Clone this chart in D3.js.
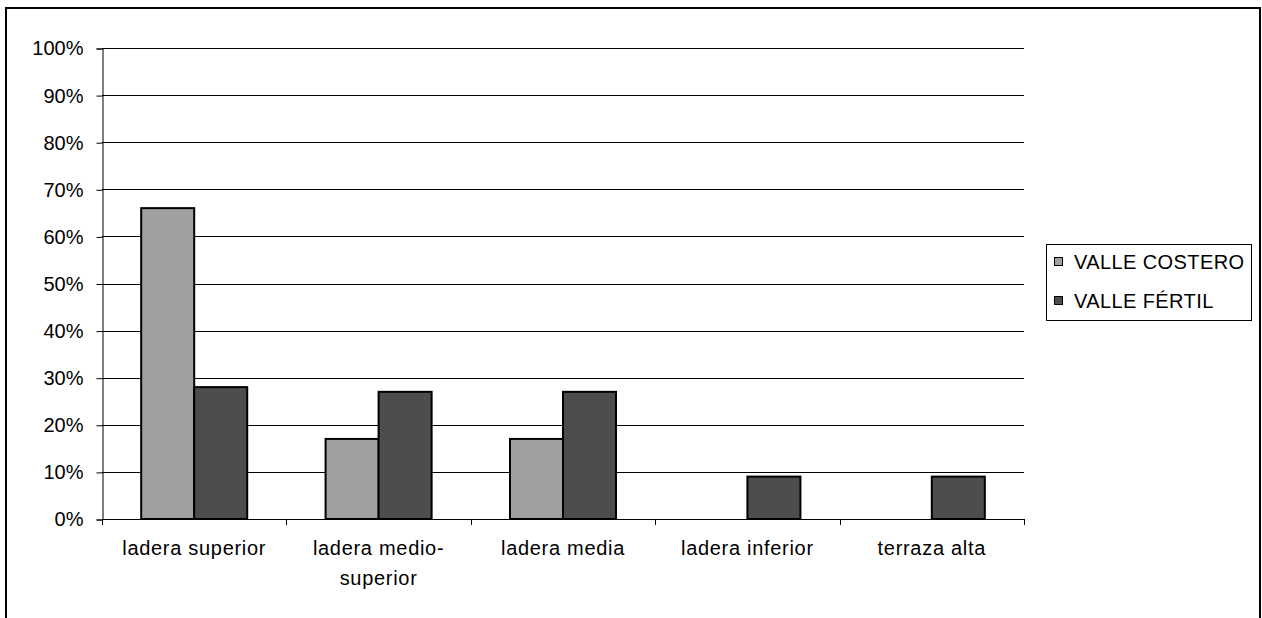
<!DOCTYPE html>
<html>
<head>
<meta charset="utf-8">
<script src="https://cdn.jsdelivr.net/npm/d3@7"></script>
<style>
  html, body { margin: 0; padding: 0; background: #fff; }
  svg { display: block; font-family: "Liberation Sans", Arial, sans-serif; }
</style>
</head>
<body>
<svg id="chart" width="1262" height="618"></svg>
<script>
// Categories (slope positions) and the share of each valley per category
const categories = ["ladera superior", "ladera medio-superior", "ladera media", "ladera inferior", "terraza alta"];
const categoryLines = [["ladera superior"], ["ladera medio-", "superior"], ["ladera media"], ["ladera inferior"], ["terraza alta"]];
const seriesNames = ["VALLE COSTERO", "VALLE FÉRTIL"];
const valleCostero = [0.66, 0.17, 0.17, 0, 0];
const valleFertil = [0.28, 0.27, 0.27, 0.09, 0.09];
const seriesColors = ["#a0a0a0", "#4d4d4d"];
const yTicks = [0, 0.1, 0.2, 0.3, 0.4, 0.5, 0.6, 0.7, 0.8, 0.9, 1.0];

const svg = d3.select("#chart");
const plot = { left: 102, right: 1024, top: 48, bottom: 519 };

// Outer chart frame (runs past the bottom edge)
svg.append("rect")
  .attr("x", 6).attr("y", 8)
  .attr("width", 1254).attr("height", 660)
  .attr("fill", "none").attr("stroke", "#000").attr("stroke-width", 2);

const y = d3.scaleLinear().domain([0, 1]).range([plot.bottom, plot.top]);
const x = d3.scaleBand().domain(categories).range([plot.left, plot.right])
  .paddingInner(0.425).paddingOuter(0.2125);
const xs = d3.scaleBand().domain(seriesNames).range([0, x.bandwidth()]);

// Horizontal gridlines
svg.append("g").selectAll("line").data(yTicks.slice(1)).join("line")
  .attr("x1", plot.left).attr("x2", plot.right)
  .attr("y1", d => Math.round(y(d)) + 0.5).attr("y2", d => Math.round(y(d)) + 0.5)
  .attr("stroke", "#000").attr("stroke-width", 1);

// Y axis
const yAxis = svg.append("g")
  .attr("transform", `translate(${plot.left + 0.5},0.5)`)
  .call(d3.axisLeft(y).tickValues(yTicks).tickFormat(d3.format(".0%"))
    .tickSize(6).tickPadding(13));
yAxis.select(".domain").attr("stroke", "#000");
yAxis.selectAll(".tick line").attr("stroke", "#000");
yAxis.selectAll("text").attr("font-size", 20).attr("fill", "#000")
  .attr("font-family", "'Liberation Sans', Arial, sans-serif");

// Bars
const data = categories.map((c, i) => ({ cat: c, values: [valleCostero[i], valleFertil[i]] }));
const groups = svg.append("g").selectAll("g").data(data).join("g")
  .attr("transform", d => `translate(${x(d.cat)},0)`);
groups.selectAll("rect")
  .data(d => d.values.map((v, j) => ({ v, s: seriesNames[j], j })).filter(e => e.v > 0))
  .join("rect")
  .attr("x", e => xs(e.s))
  .attr("width", xs.bandwidth())
  .attr("y", e => y(e.v))
  .attr("height", e => y(0) - y(e.v))
  .attr("fill", e => seriesColors[e.j])
  .attr("stroke", "#000").attr("stroke-width", 2);

// X axis baseline and category boundary ticks
const bx = svg.append("g");
bx.append("line")
  .attr("x1", plot.left).attr("x2", plot.right)
  .attr("y1", y(0) + 0.5).attr("y2", y(0) + 0.5)
  .attr("stroke", "#000").attr("stroke-width", 1);
const boundaries = categories.map(c => x(c) - (x.step() - x.bandwidth()) / 2)
  .concat([plot.right]);
bx.selectAll("line.tick").data(boundaries).join("line")
  .attr("class", "tick")
  .attr("x1", d => Math.round(d) + 0.5).attr("x2", d => Math.round(d) + 0.5)
  .attr("y1", y(0)).attr("y2", y(0) + 6)
  .attr("stroke", "#000").attr("stroke-width", 1);

// Category labels
const labels = svg.append("g").selectAll("text").data(categories).join("text")
  .attr("x", c => x(c) + x.bandwidth() / 2)
  .attr("y", 555)
  .attr("text-anchor", "middle")
  .attr("font-size", 20)
  .attr("letter-spacing", 0.7)
  .attr("fill", "#000");
labels.each(function (c, i) {
  const t = d3.select(this);
  categoryLines[i].forEach((line, k) => {
    t.append("tspan")
      .attr("x", x(c) + x.bandwidth() / 2)
      .attr("dy", k === 0 ? 0 : 30)
      .text(line);
  });
});

// Legend
const legend = svg.append("g");
legend.append("rect")
  .attr("x", 1046.5).attr("y", 244.5).attr("width", 205).attr("height", 76)
  .attr("fill", "#fff").attr("stroke", "#000").attr("stroke-width", 1);
const items = legend.selectAll("g").data(seriesNames).join("g")
  .attr("transform", (d, i) => `translate(0,${262 + i * 39})`);
items.append("rect")
  .attr("x", 1054.5).attr("y", -4.5).attr("width", 8).attr("height", 8)
  .attr("fill", (d, i) => seriesColors[i]).attr("stroke", "#000").attr("stroke-width", 1);
items.append("text")
  .attr("x", 1074).attr("y", 0).attr("dy", "0.35em")
  .attr("font-size", 20).attr("letter-spacing", 0.4)
  .attr("fill", "#000")
  .text(d => d);
</script>
</body>
</html>
